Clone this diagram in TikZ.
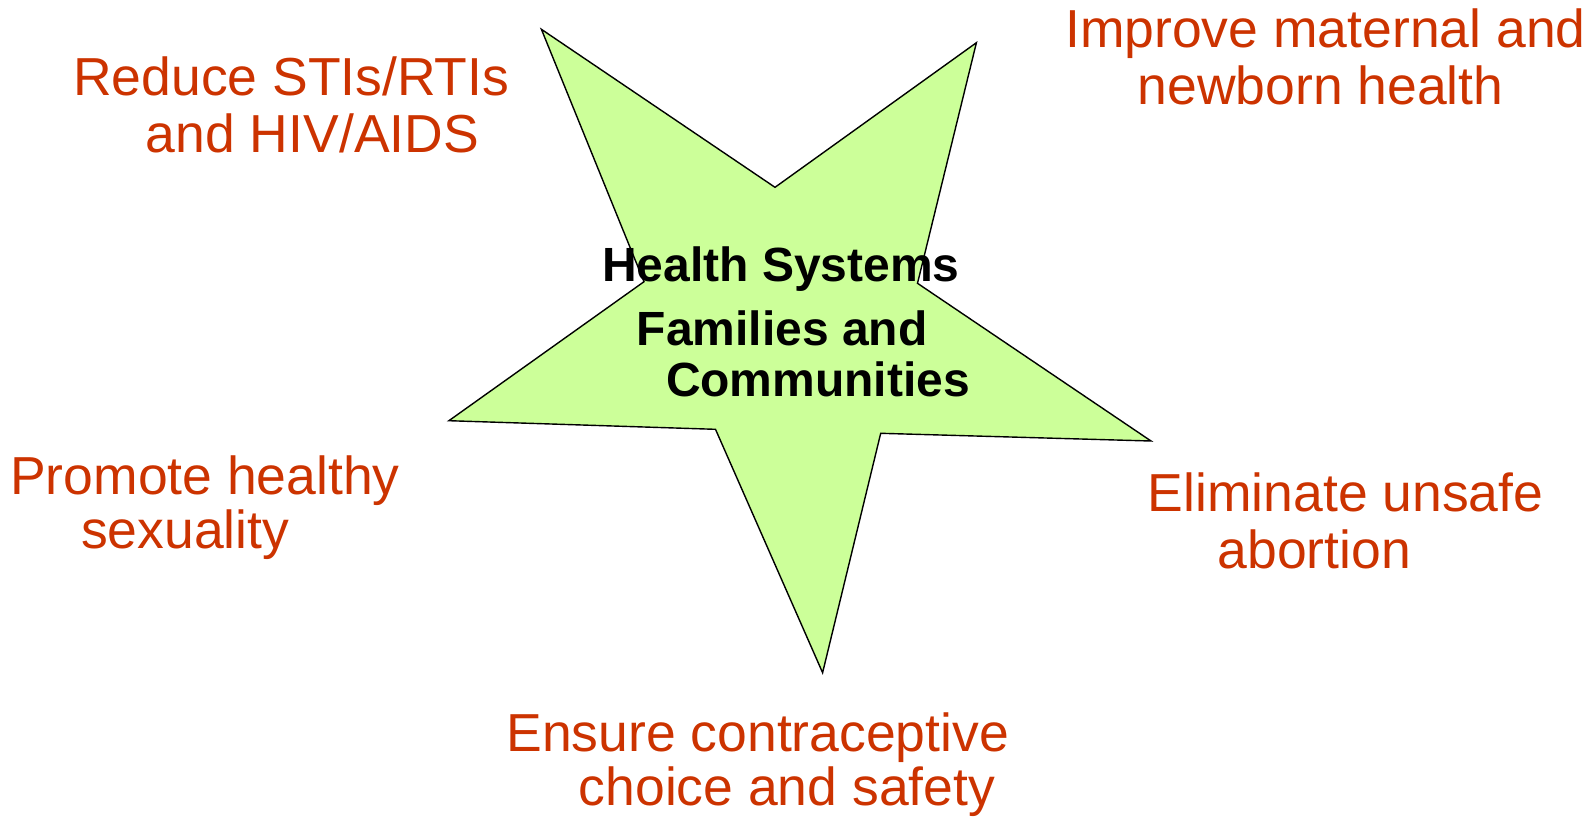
\documentclass[tikz,border=0pt]{standalone}
\usepackage{fontspec}
\setmainfont{Liberation Sans}
\definecolor{goalred}{RGB}{204,51,0}
\definecolor{stargreen}{RGB}{204,255,153}
\begin{document}
\begin{tikzpicture}[x=1pt,y=-1pt,
  goal/.style={anchor=base west,inner sep=0pt,text=goalred,
    font=\fontsize{53.5}{58}\selectfont},
  core/.style={anchor=base west,inner sep=0pt,text=black,
    font=\fontsize{48}{52}\selectfont\bfseries},
  starline/.style={draw=black,line width=1.4pt,fill=stargreen,line join=miter}]
\useasboundingbox (0,0) rectangle (1592,817);

% star outline, tips and inner corners
\coordinate (tA) at (541.4,29.3);
\coordinate (iB) at (775,187.3);
\coordinate (tC) at (976.4,42.7);
\coordinate (iD) at (917.5,283.3);
\coordinate (tE) at (1151,441);
\coordinate (iF) at (880.7,433.3);
\coordinate (tG) at (822.6,672.7);
\coordinate (iH) at (715.5,429.3);
\coordinate (tI) at (448.9,420.7);
\coordinate (iJ) at (644,281.7);
\path[starline] (tA) -- (iB) -- (tC) -- (iD) -- (tE) -- (iF) -- (tG)
  -- (iH) -- (tI) -- (iJ) -- cycle;

% centre labels
\node[core] (hs) at (602,281.7) {Health Systems};
\node[core] (fa) at (636.5,345) {Families and};
\node[core] (co) at (665.8,396.7) {Communities};

% goals around the star
\node[goal] (sti1) at (73,95) {Reduce STIs/RTIs};
\node[goal] (sti2) at (145.7,152.7) {and HIV/AIDS};
\node[goal] (mat1) at (1065,47.7) {Improve maternal and};
\node[goal] (mat2) at (1137.5,104) {newborn health};
\node[goal] (sex1) at (10,494.3) {Promote healthy};
\node[goal] (sex2) at (81,548.3) {sexuality};
\node[goal] (abo1) at (1147.7,511) {Eliminate unsafe};
\node[goal] (abo2) at (1217.3,568.3) {abortion};
\node[goal] (con1) at (506.3,751.7) {Ensure contraceptive};
\node[goal] (con2) at (578.6,805) {choice and safety};
\end{tikzpicture}
\end{document}
